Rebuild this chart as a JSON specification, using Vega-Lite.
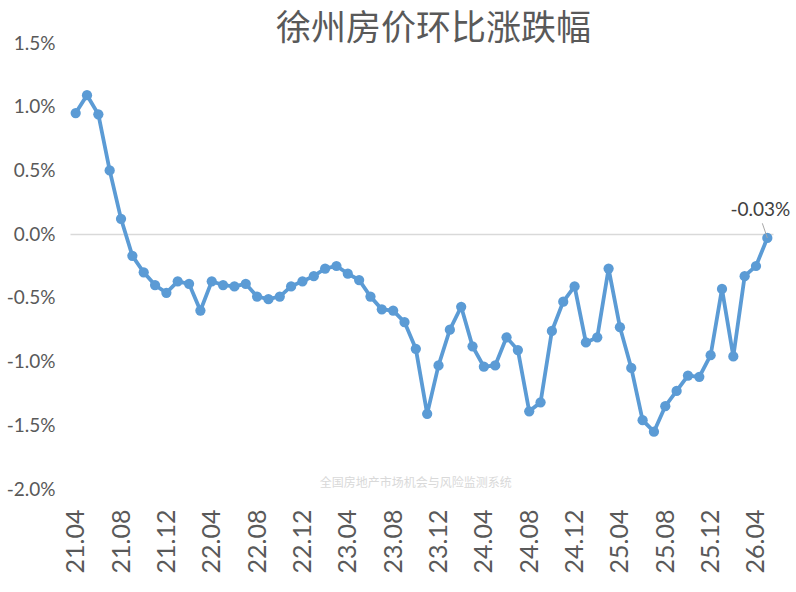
{
  "$schema": "https://vega.github.io/schema/vega-lite/v6.json",
  "width": 703,
  "height": 446,
  "autosize": {"type": "none"},
  "padding": {"left": 70, "top": 43, "right": 23, "bottom": 103},
  "background": "white",
  "title": {
    "text": "徐州房价环比涨跌幅",
    "font": "Noto Sans CJK SC",
    "fontSize": 35,
    "fontWeight": "normal",
    "color": "#595959",
    "anchor": "middle",
    "dx": 12,
    "offset": -13
  },
  "config": {
    "view": {"stroke": null},
    "font": "Lato"
  },
  "data": {
    "values": [
      {"m": "21.04", "v": 0.95}, {"m": "21.05", "v": 1.09}, {"m": "21.06", "v": 0.94},
      {"m": "21.07", "v": 0.50}, {"m": "21.08", "v": 0.12}, {"m": "21.09", "v": -0.17},
      {"m": "21.10", "v": -0.30}, {"m": "21.11", "v": -0.40}, {"m": "21.12", "v": -0.46},
      {"m": "22.01", "v": -0.37}, {"m": "22.02", "v": -0.39}, {"m": "22.03", "v": -0.60},
      {"m": "22.04", "v": -0.37}, {"m": "22.05", "v": -0.40}, {"m": "22.06", "v": -0.41},
      {"m": "22.07", "v": -0.39}, {"m": "22.08", "v": -0.49}, {"m": "22.09", "v": -0.51},
      {"m": "22.10", "v": -0.49}, {"m": "22.11", "v": -0.41}, {"m": "22.12", "v": -0.37},
      {"m": "23.01", "v": -0.33}, {"m": "23.02", "v": -0.27}, {"m": "23.03", "v": -0.25},
      {"m": "23.04", "v": -0.31}, {"m": "23.05", "v": -0.36}, {"m": "23.06", "v": -0.49},
      {"m": "23.07", "v": -0.59}, {"m": "23.08", "v": -0.60}, {"m": "23.09", "v": -0.69},
      {"m": "23.10", "v": -0.90}, {"m": "23.11", "v": -1.41}, {"m": "23.12", "v": -1.03},
      {"m": "24.01", "v": -0.75}, {"m": "24.02", "v": -0.57}, {"m": "24.03", "v": -0.88},
      {"m": "24.04", "v": -1.04}, {"m": "24.05", "v": -1.03}, {"m": "24.06", "v": -0.81},
      {"m": "24.07", "v": -0.91}, {"m": "24.08", "v": -1.39}, {"m": "24.09", "v": -1.32},
      {"m": "24.10", "v": -0.76}, {"m": "24.11", "v": -0.53}, {"m": "24.12", "v": -0.41},
      {"m": "25.01", "v": -0.85}, {"m": "25.02", "v": -0.81}, {"m": "25.03", "v": -0.27},
      {"m": "25.04", "v": -0.73}, {"m": "25.05", "v": -1.05}, {"m": "25.06", "v": -1.46},
      {"m": "25.07", "v": -1.55}, {"m": "25.08", "v": -1.35}, {"m": "25.09", "v": -1.23},
      {"m": "25.10", "v": -1.11}, {"m": "25.11", "v": -1.12}, {"m": "25.12", "v": -0.95},
      {"m": "26.01", "v": -0.43}, {"m": "26.02", "v": -0.96}, {"m": "26.03", "v": -0.33},
      {"m": "26.04", "v": -0.25}, {"m": "26.05", "v": -0.03}
    ]
  },
  "encoding": {
    "x": {
      "field": "m",
      "type": "ordinal",
      "sort": null,
      "scale": {"type": "point", "padding": 0.5},
      "axis": {
        "title": null,
        "domain": false,
        "ticks": false,
        "grid": false,
        "labelAngle": -90,
        "labelAlign": "right",
        "labelBaseline": "middle",
        "labelPadding": 20,
        "labelFontSize": 25,
        "labelColor": "#595959",
        "labelFont": "Lato",
        "labelOverlap": false,
        "labelExpr": "indexof(['04','08','12'], substring(datum.value, 3)) >= 0 ? datum.value : ''"
      }
    },
    "y": {
      "field": "v",
      "type": "quantitative",
      "scale": {"domain": [-2, 1.5], "nice": false, "zero": false},
      "axis": {
        "title": null,
        "domain": false,
        "ticks": false,
        "grid": true,
        "gridColor": "#d9d9d9",
        "gridWidth": 1.3,
        "gridOpacity": {"expr": "datum.value === 0 ? 1 : 0"},
        "values": [-2, -1.5, -1, -0.5, 0, 0.5, 1, 1.5],
        "labelExpr": "(datum.value < 0 ? '-' : '') + format(abs(datum.value), '.1f') + '%'",
        "labelPadding": 15,
        "labelFontSize": 19,
        "labelColor": "#595959",
        "labelFont": "Lato"
      }
    }
  },
  "layer": [
    {
      "mark": {"type": "line", "color": "#5b9bd5", "strokeWidth": 3.8}
    },
    {
      "mark": {"type": "point", "filled": true, "color": "#5b9bd5", "opacity": 1, "size": 105}
    },
    {
      "data": {"values": [{"m": "23.10", "v": -1.955, "t": "全国房地产市场机会与风险监测系统"}]},
      "mark": {
        "type": "text",
        "font": "Noto Sans CJK SC",
        "fontSize": 12,
        "color": "#d9d9d9",
        "align": "center",
        "baseline": "middle"
      },
      "encoding": {"text": {"field": "t"}}
    },
    {
      "data": {"values": [{"m": "26.05", "top": 0.085, "v": -0.03}]},
      "mark": {"type": "rule", "color": "#a6a6a6", "strokeWidth": 1, "xOffset": -5},
      "encoding": {
        "x2": {"field": "m"},
        "y": {"field": "top", "type": "quantitative"},
        "y2": {"field": "v"}
      }
    },
    {
      "transform": [{"filter": "datum.m === '26.05'"}],
      "mark": {
        "type": "text",
        "fontSize": 19,
        "color": "#404040",
        "align": "center",
        "baseline": "middle",
        "dx": -7,
        "dy": -28
      },
      "encoding": {"text": {"value": "-0.03%"}}
    }
  ]
}
